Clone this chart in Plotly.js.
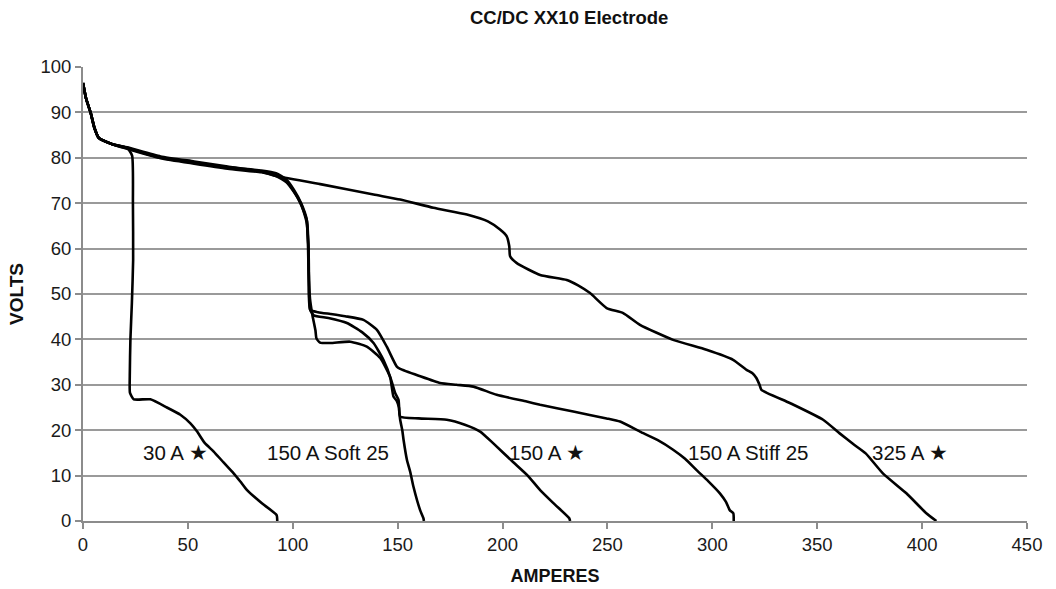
<!DOCTYPE html>
<html>
<head>
<meta charset="utf-8">
<script src="https://cdn.plot.ly/plotly-3.0.1.min.js"></script>
<style>html,body{margin:0;padding:0;background:#fff;}#chart{width:1056px;height:589px;}</style>
</head>
<body>
<div id="chart"></div>
<script>
// 30 A ★
const a30_x = [0, 1.5, 3.6, 5.5, 7.5, 14, 21, 23.4, 23.8, 23.9, 23.3, 22.6, 22.3, 22.4, 24.2, 32.1, 40, 46.4, 51.2, 54.4, 58, 62.3, 67, 71.8, 75, 78.2, 85, 92.3, 92.6];
const a30_y = [96.5, 93, 90, 86.5, 84.4, 83, 82.2, 80.5, 70, 57.5, 48, 40, 32, 28.2, 26.8, 26.8, 25, 23.4, 21.5, 19.7, 17.2, 15.3, 12.9, 10.5, 8.7, 6.8, 4.0, 1.3, 0];

// 150 A Soft 25
const soft_x = [0, 1.5, 3.6, 5.5, 7.5, 14, 21, 37, 53, 69, 85, 92, 97, 100.5, 104, 106.5, 107.4, 107.6, 108.2, 109.3, 110.8, 111.3, 113, 117.9, 127.4, 135.3, 141.7, 146.4, 148.8, 150.4, 150.8, 151.2, 152.2, 152.8, 154.4, 156, 157.5, 160.7, 162.3, 162.5];
const soft_y = [96.5, 93, 90, 86.5, 84.4, 83, 82.0, 79.9, 78.7, 77.6, 76.8, 76.0, 74.6, 72.5, 69.8, 66.0, 61.0, 55.0, 49.0, 45.5, 42.0, 40.2, 39.3, 39.2, 39.5, 38.4, 35.9, 31.8, 28.2, 26.7, 24.0, 22.3, 20.0, 17.9, 13.5, 10.8, 7.6, 2.4, 0.6, 0];

// 150 A ★
const a150_x = [0, 1.5, 3.6, 5.5, 7.5, 14, 21, 37, 53, 69, 85, 92, 97, 100.5, 104, 106.8, 107.6, 107.8, 108.3, 110, 117, 125.8, 133, 138.5, 143.2, 146.5, 148, 149.5, 150.6, 151.2, 160, 173.4, 182, 189.3, 195.6, 205, 212, 217.9, 225, 231.8, 232.2];
const a150_y = [96.5, 93, 90, 86.5, 84.4, 83, 82.1, 80.0, 78.9, 77.8, 77.0, 76.3, 74.8, 72.7, 69.6, 66.0, 58.0, 50.0, 46.5, 45.3, 44.7, 43.6, 41.6, 39.2, 35.5, 31.5, 27.4, 26.5, 25.0, 23.0, 22.6, 22.3, 21.2, 19.7, 17.1, 13.0, 10.0, 6.8, 3.6, 0.6, 0];

// 150 A Stiff 25
const stiff_x = [0, 1.5, 3.6, 5.5, 7.5, 14, 21, 37, 53, 69, 85, 92, 97, 100.5, 104, 106.6, 107.3, 107.6, 108.3, 112, 117.9, 125, 133.7, 140.1, 144.8, 149.6, 151.2, 160, 170.2, 178, 186.1, 197.2, 211.5, 217.9, 233.7, 249.6, 256, 265.5, 274, 281.3, 287, 292.5, 298, 303.6, 306.5, 308.3, 310, 310.2];
const stiff_y = [96.5, 93, 90, 86.5, 84.4, 83, 82.2, 80.1, 79.0, 77.9, 77.2, 76.6, 75.2, 73.0, 70.0, 66.5, 60.0, 53.0, 46.5, 46.0, 45.6, 45.1, 44.3, 42.1, 38.4, 34.0, 33.5, 32.0, 30.4, 30.0, 29.6, 27.8, 26.3, 25.6, 24.1, 22.6, 21.9, 19.7, 17.8, 15.7, 13.7, 11.2, 8.8, 6.1, 4.2, 2.4, 1.7, 0];

// 325 A ★
const a325_x = [0, 1.5, 3.6, 5.5, 7.5, 14, 21, 37, 53, 69, 85, 90.9, 113.1, 138.5, 151.2, 167, 183, 193, 198.8, 202, 203.2, 203.6, 206.8, 217.9, 230.6, 236, 241.7, 249.6, 257.5, 265.5, 281.3, 297.2, 309.9, 316.3, 319, 321, 322.5, 323.4, 336.9, 352.8, 360.7, 367, 373.1, 381.3, 392.5, 402, 406.8];
const a325_y = [96.5, 93, 90, 86.5, 84.4, 83, 82.3, 80.3, 79.2, 78.1, 77.0, 76.1, 74.2, 71.9, 70.8, 69.0, 67.5, 66.0, 64.2, 62.7, 60.5, 58.3, 56.8, 54.2, 53.1, 51.9, 50.2, 46.9, 45.8, 43.2, 39.9, 37.7, 35.5, 33.3, 32.6, 31.5, 30.0, 28.9, 26.0, 22.3, 19.3, 17.0, 14.9, 10.5, 6.1, 1.7, 0];

const labelText = ["30 A \u2605", "150 A Soft 25", "150 A \u2605", "150 A Stiff 25", "325 A \u2605"];
const labelX = [44.0, 116.7, 221.2, 316.9, 394.0];
const labelY = [15.15, 15.15, 15.15, 15.15, 15.15];

const xTicks = [0, 50, 100, 150, 200, 250, 300, 350, 400, 450];
const yTicks = [0, 10, 20, 30, 40, 50, 60, 70, 80, 90, 100];

const FONT = 'Liberation Sans, Arial, Helvetica, sans-serif';

const series = [[a30_x, a30_y], [soft_x, soft_y], [a150_x, a150_y], [stiff_x, stiff_y], [a325_x, a325_y]];
const traces = series.map(s => ({
  x: s[0], y: s[1], type: 'scatter', mode: 'lines',
  line: {color: '#000', width: 2.6, shape: 'spline', smoothing: 0.5}, hoverinfo: 'skip', showlegend: false
}));

const annotations = labelText.map((t, i) => ({
  x: labelX[i], y: labelY[i], xref: 'x', yref: 'y', text: t, showarrow: false,
  font: {family: FONT, size: 20.5, color: '#111'}
}));

const layout = {
  width: 1056, height: 589,
  margin: {l: 82.5, r: 28.5, t: 67, b: 68},
  paper_bgcolor: '#fff', plot_bgcolor: '#fff',
  font: {family: FONT, color: '#222'},
  title: {text: '<b>CC/DC XX10 Electrode</b>', x: 0.539, xanchor: 'center', y: 0.971, yanchor: 'middle',
          font: {family: FONT, size: 18.5, color: '#111'}},
  xaxis: {
    range: [0, 450], tickvals: xTicks, ticktext: xTicks.map(String),
    showgrid: false, zeroline: false, showline: true, linecolor: '#8c8c8c', linewidth: 2,
    ticks: 'outside', ticklen: 6, tickcolor: '#8c8c8c', tickwidth: 2,
    tickfont: {family: FONT, size: 18.5, color: '#1a1a1a'},
    title: {text: '<b>AMPERES</b>', font: {family: FONT, size: 18, color: '#111'}, standoff: 15}
  },
  yaxis: {
    range: [0, 100], tickvals: yTicks, ticktext: yTicks.map(String),
    showgrid: true, gridcolor: '#9a9a9a', gridwidth: 2, zeroline: false,
    showline: true, linecolor: '#8c8c8c', linewidth: 2,
    ticks: 'outside', ticklen: 6, tickcolor: '#8c8c8c', tickwidth: 2,
    tickfont: {family: FONT, size: 18.5, color: '#1a1a1a'},
    title: {text: '<b>VOLTS</b>', font: {family: FONT, size: 19, color: '#111'}, standoff: 12}
  },
  annotations: annotations
};

Plotly.newPlot('chart', traces, layout, {displayModeBar: false, staticPlot: true});
</script>
</body>
</html>
